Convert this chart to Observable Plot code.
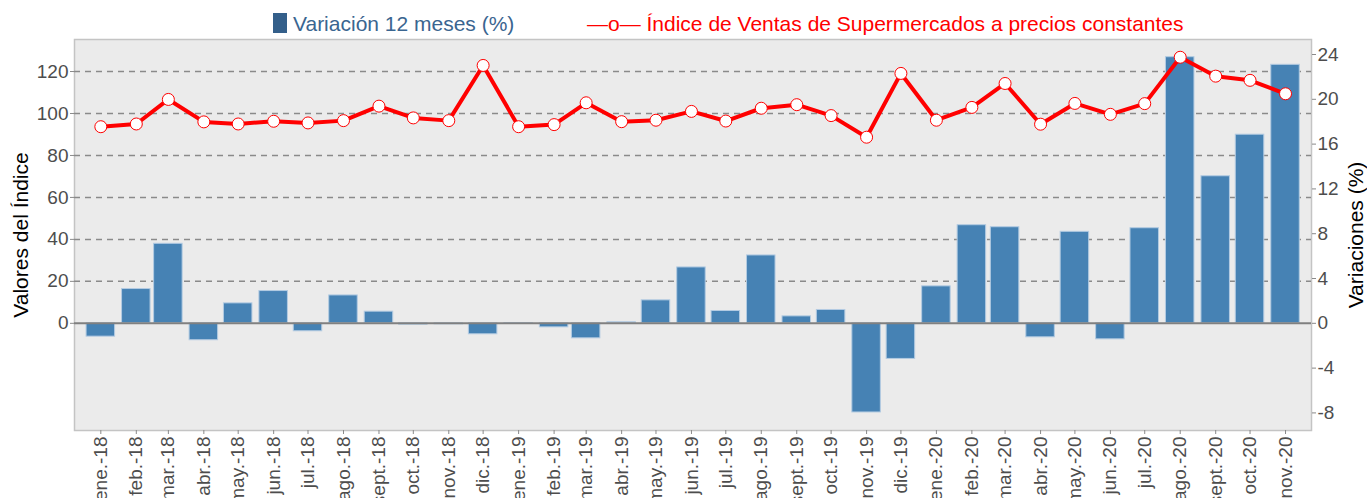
<!DOCTYPE html>
<html><head><meta charset="utf-8">
<script src="https://cdn.jsdelivr.net/npm/d3@7"></script>
<script src="https://cdn.jsdelivr.net/npm/@observablehq/plot@0.6"></script>
<style>
body{margin:0;background:#fff;font-family:"Liberation Sans",Arial,sans-serif;}
#wrap{position:relative;width:1367px;height:498px;overflow:hidden;}
#legend{height:38px;position:relative;}
.lg{position:absolute;white-space:nowrap;line-height:21px;font-size:21px;}
.ttl{position:absolute;white-space:nowrap;font-size:21px;color:#000;transform:translate(-50%,-50%) rotate(-90deg);line-height:21px;}
</style></head><body>
<div id="wrap">
<div id="legend">
  <span style="position:absolute;left:273px;top:13px;width:14px;height:20px;background:#345f8a"></span>
  <span class="lg" style="left:293px;top:13px;color:#3a6590">Variación 12 meses (%)</span>
  <span class="lg" style="left:587px;top:13px;color:#ff0000">—o— Índice de Ventas de Supermercados a precios constantes</span>
</div>
<div id="chart"></div>
<div class="ttl" style="left:20px;top:235px">Valores del Índice</div>
<div class="ttl" style="left:1355px;top:235px">Variaciones (%)</div>
</div>
<script>
const months = ["ene.-18","feb.-18","mar.-18","abr.-18","may.-18","jun.-18","jul.-18","ago.-18","sept.-18","oct.-18","nov.-18","dic.-18",
"ene.-19","feb.-19","mar.-19","abr.-19","may.-19","jun.-19","jul.-19","ago.-19","sept.-19","oct.-19","nov.-19","dic.-19",
"ene.-20","feb.-20","mar.-20","abr.-20","may.-20","jun.-20","jul.-20","ago.-20","sept.-20","oct.-20","nov.-20"];
const variacion = [-1.19,3.06,7.10,-1.51,1.78,2.88,-0.71,2.49,1.04,-0.12,-0.09,-0.98,
0.02,-0.36,-1.34,0.09,2.05,4.99,1.10,6.06,0.62,1.19,-7.96,-3.18,
3.30,8.76,8.58,-1.25,8.17,-1.43,8.49,23.76,13.13,16.84,23.08];
const indice = [93.7,95.0,106.7,96.0,95.0,96.3,95.5,96.6,103.5,97.9,96.6,122.9,
93.7,94.7,105.1,96.1,96.8,101.0,96.4,102.5,104.2,99.0,88.7,119.1,
96.8,102.9,114.3,94.9,104.8,99.6,104.7,126.8,117.8,115.8,109.4];
const leftTicks = [0,20,40,60,80,100,120];
const rightTicks = [-8,-4,0,4,8,12,16,20,24];

const k = 5.338; // index units per % unit (dual axis ratio)
const DAY = 86400000;
const dates = months.map((m,i) => new Date(Date.UTC(2018, i, 1)));
const data = months.map((m,i) => ({label:m, date:dates[i], v:variacion[i], idx:indice[i]}));
const labelOf = new Map(dates.map((d,i)=>[+d, months[i]]));
const half = 12.45*DAY;

const chart = Plot.plot({
  width: 1367,
  height: 460,
  marginLeft: 74,
  marginRight: 56,
  marginTop: 1,
  marginBottom: 68,
  style: {fontFamily: "'Liberation Sans', Arial, sans-serif", background: "white", color:"#4d4d4d"},
  x: {type: "utc", domain: [new Date(+dates[0] - 23*DAY), new Date(+dates[dates.length-1] + 22.7*DAY)]},
  y: {domain: [-9.57, 25.34]},
  marks: [
    Plot.frame({fill: "#ebebeb", stroke: "#c4c4c4", strokeWidth: 1.5}),
    Plot.ruleY(leftTicks.filter(d => d > 0), {y: d => d / k, stroke: "#8a8a8a", strokeWidth: 1.5, strokeDasharray: "6,5"}),
    Plot.rect(data, {x1: d => new Date(+d.date - half), x2: d => new Date(+d.date + half), y1: 0, y2: "v", fill: "#4682b4", stroke: "#b3cbe2", strokeWidth: 1}),
    Plot.ruleY([0], {stroke: "#808080", strokeWidth: 2}),
    Plot.line(data, {x: "date", y: d => d.idx / k, stroke: "#ff0000", strokeWidth: 4}),
    Plot.dot(data, {x: "date", y: d => d.idx / k, r: 6, fill: "white", stroke: "#ff0000", strokeWidth: 1}),
    Plot.axisY(leftTicks.map(d => d / k), {anchor: "left", tickFormat: d => String(Math.round(d * k)), label: null, fontSize: 19, tickSize: 4, tickPadding: 2, stroke: "#8a8a8a", fill: "#4d4d4d"}),
    Plot.axisY(rightTicks, {anchor: "right", tickFormat: d => String(d), label: null, fontSize: 19, tickSize: 4, tickPadding: 2, stroke: "#8a8a8a", fill: "#4d4d4d"}),
    Plot.axisX(dates, {anchor: "bottom", tickFormat: d => labelOf.get(+d), tickRotate: -90, label: null, fontSize: 19, tickSize: 4, tickPadding: 2, stroke: "#8a8a8a", fill: "#4d4d4d"})
  ]
});
document.getElementById("chart").appendChild(chart);
</script>
</body></html>
